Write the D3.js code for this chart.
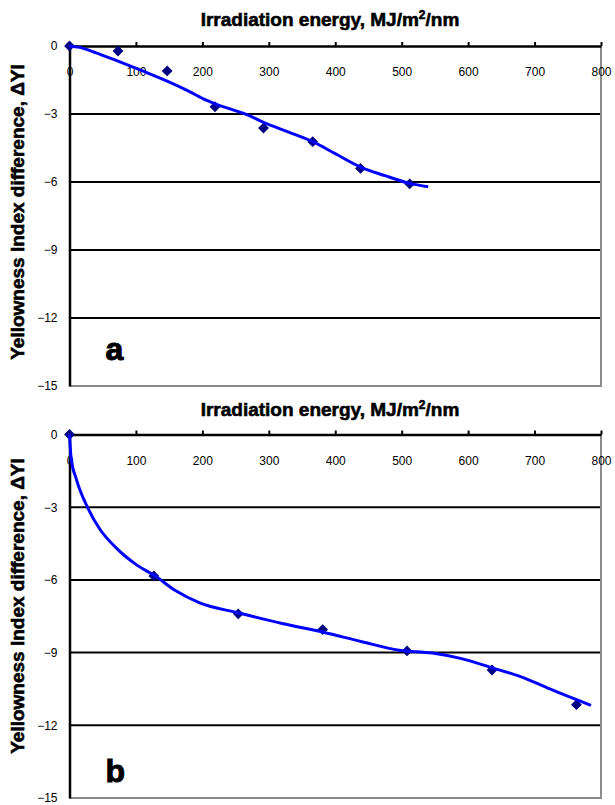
<!DOCTYPE html>
<html>
<head>
<meta charset="utf-8">
<script src="https://cdn.jsdelivr.net/npm/d3@7"></script>
<style>
  body { margin: 0; background: #fff; }
  svg { display: block; }
  text { font-family: "Liberation Sans", Arial, sans-serif; }
</style>
</head>
<body>
<div id="chart"></div>
<script>
// tick values shared by both panels
const xTicks = [0, 100, 200, 300, 400, 500, 600, 700, 800];
const yTicks = [0, -3, -6, -9, -12, -15];
const gridValues = [-3, -6, -9, -12];

// panel a: measured points
const energyA = [0, 73, 147, 219, 292, 366, 438, 512];
const deltaYIA = [0, -0.22, -1.10, -2.68, -3.62, -4.22, -5.40, -6.08];
// panel a: fitted trend line
const fitEnergyA = [0, 15, 40, 72, 110, 147, 180, 205, 219, 267, 292, 330, 366, 400, 438, 475, 512, 540];
const fitYIA = [0, -0.06, -0.3, -0.66, -1.1, -1.55, -2.0, -2.38, -2.55, -3.03, -3.37, -3.8, -4.22, -4.75, -5.34, -5.72, -6.06, -6.21];

// panel b: measured points
const energyB = [0, 127, 254, 381, 508, 636, 763];
const deltaYIB = [0, -5.84, -7.40, -8.05, -8.93, -9.72, -11.15];
// panel b: fitted trend line
const fitEnergyB = [0, 2.5, 10, 27, 45, 71, 101, 129, 160, 196, 254, 320, 382, 440, 496, 546, 590, 634, 680, 723, 785];
const fitYIB = [0, -1.0, -1.82, -3.0, -3.88, -4.70, -5.38, -5.84, -6.45, -6.95, -7.36, -7.80, -8.16, -8.55, -8.90, -9.02, -9.25, -9.61, -10.0, -10.5, -11.18];

const svgWidth = 615;
const svgHeight = 805;

const svg = d3.select("#chart")
    .append("svg")
    .attr("width", svgWidth)
    .attr("height", svgHeight);

function drawPanel(opts) {
    const {top, bottom, left, right, energy, delta, fitX, fitY, letter, titleY, labelY} = opts;

    const xScale = d3.scaleLinear().domain([0, 800]).range([left, right]);
    const yScale = d3.scaleLinear().domain([0, -15]).range([top, bottom]);

    const g = svg.append("g");

    // grid lines
    g.selectAll(".grid")
        .data(gridValues)
        .enter().append("line")
        .attr("x1", left).attr("x2", right)
        .attr("y1", d => yScale(d)).attr("y2", d => yScale(d))
        .attr("stroke", "#000")
        .attr("stroke-width", 2);

    // plot border (right and bottom in grey)
    g.append("path")
        .attr("d", `M${right},${top} V${yScale(-15)} H${left}`)
        .attr("fill", "none")
        .attr("stroke", "#8c8c8c")
        .attr("stroke-width", 2);

    // y axis
    const yAxis = d3.axisLeft(yScale)
        .tickValues(yTicks)
        .tickSize(0)
        .tickPadding(12)
        .tickFormat(d => d === 0 ? "0" : "\u2212" + Math.abs(d));
    const yAxisGroup = g.append("g")
        .attr("transform", `translate(${left},0)`)
        .call(yAxis);
    yAxisGroup.select(".domain").attr("stroke", "#000").attr("stroke-width", 2.5);
    yAxisGroup.selectAll("text")
        .attr("font-size", 12)
        .attr("font-family", "'DejaVu Sans Condensed', 'Liberation Sans', sans-serif")
        .attr("fill", "#000");

    // x axis at y = 0, ticks pointing up, labels below
    const xAxis = d3.axisTop(xScale)
        .tickValues(xTicks)
        .tickSizeInner(4)
        .tickSizeOuter(0)
        .tickFormat(d3.format("d"));
    const xAxisGroup = g.append("g")
        .attr("transform", `translate(0,${top})`)
        .call(xAxis);
    xAxisGroup.select(".domain").attr("stroke", "#000").attr("stroke-width", 2.5);
    xAxisGroup.selectAll("line").attr("stroke", "#000").attr("stroke-width", 2);
    xAxisGroup.selectAll("text")
        .attr("y", 30)
        .attr("dy", 0)
        .attr("font-size", 12)
        .attr("font-family", "'DejaVu Sans Condensed', 'Liberation Sans', sans-serif")
        .attr("fill", "#000");

    // measured points as diamonds
    const diamond = d3.symbol().type(d3.symbolDiamond2).size(75);
    g.selectAll(".pt")
        .data(d3.zip(energy, delta))
        .enter().append("path")
        .attr("d", diamond)
        .attr("transform", d => `translate(${xScale(d[0])},${yScale(d[1])})`)
        .attr("fill", "#000080");

    // trend line
    const line = d3.line()
        .x(d => xScale(d[0]))
        .y(d => yScale(d[1]))
        .curve(d3.curveMonotoneX);
    g.append("path")
        .datum(d3.zip(fitX, fitY))
        .attr("d", line)
        .attr("fill", "none")
        .attr("stroke", "#0000ff")
        .attr("stroke-width", 3);

    // title
    g.append("text")
        .attr("x", 330)
        .attr("y", titleY)
        .attr("text-anchor", "middle")
        .attr("font-size", 19)
        .attr("font-weight", "bold")
        .attr("stroke", "#000")
        .attr("stroke-width", 0.6)
        .text("Irradiation energy, MJ/m")
        .append("tspan")
            .attr("font-size", 12)
            .attr("dy", -7)
            .text("2")
        .clone()
            .attr("font-size", 19)
            .attr("dy", 7)
            .text("/nm");

    // y label
    g.append("text")
        .attr("transform", `translate(24,${labelY}) rotate(-90)`)
        .attr("text-anchor", "middle")
        .attr("font-size", 19)
        .attr("font-weight", "bold")
        .attr("stroke", "#000")
        .attr("stroke-width", 0.6)
        .text("Yellowness Index difference,  \u0394YI");

    // panel letter
    g.append("text")
        .attr("x", left + 36)
        .attr("y", letter.y)
        .attr("font-size", 32)
        .attr("font-weight", "bold")
        .attr("stroke", "#000")
        .attr("stroke-width", 1)
        .text(letter.text);
}

drawPanel({
    top: 46, bottom: 386, left: 69.5, right: 601,
    energy: energyA, delta: deltaYIA,
    fitX: fitEnergyA, fitY: fitYIA,
    letter: {text: "a", y: 360},
    titleY: 26, labelY: 212
});

drawPanel({
    top: 434.5, bottom: 798, left: 69.5, right: 601,
    energy: energyB, delta: deltaYIB,
    fitX: fitEnergyB, fitY: fitYIB,
    letter: {text: "b", y: 782},
    titleY: 416, labelY: 606
});
</script>
</body>
</html>
